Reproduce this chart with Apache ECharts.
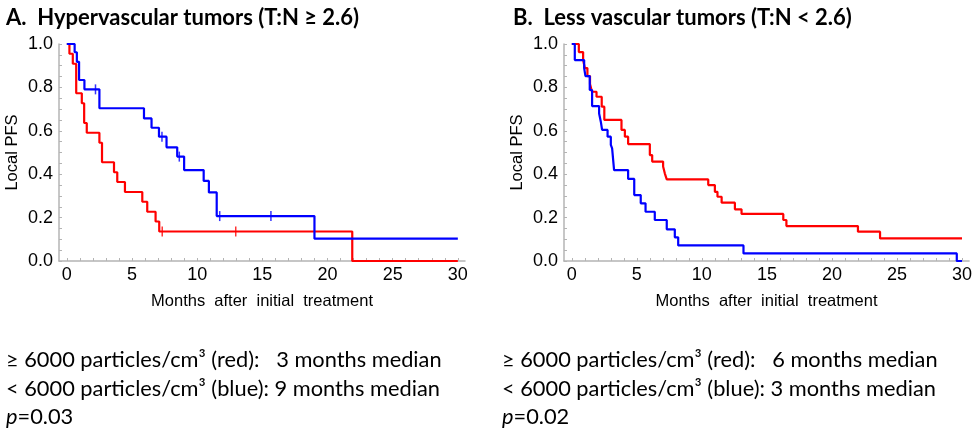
<!DOCTYPE html>
<html>
<head>
<meta charset="utf-8">
<script src="https://cdn.jsdelivr.net/npm/echarts@6/dist/echarts.min.js"></script>
<style>
  html, body { margin: 0; padding: 0; background: #fff; }
  #main { width: 975px; height: 430px; }
</style>
</head>
<body>
<div id="main"></div>
<script>
// Kaplan-Meier curves, [months, local PFS] at each drop
var aRed = [[0,1],[0.2,0.955],[0.46,0.909],[0.72,0.773],[1.15,0.727],[1.33,0.636],[1.53,0.591],
  [2.5,0.545],[2.7,0.455],[3.62,0.409],[3.87,0.364],[4.46,0.318],[5.79,0.273],[6.17,0.227],
  [6.81,0.182],[7.09,0.136],[21.9,0],[30,0]];
var aBlue = [[0,1],[0.6,0.962],[0.77,0.918],[0.94,0.834],[1.35,0.791],[2.5,0.704],[5.92,0.657],
  [6.5,0.614],[7.07,0.573],[7.65,0.524],[8.47,0.481],[9.0,0.419],[10.5,0.369],[10.9,0.316],
  [11.5,0.207],[19.0,0.103],[30,0.103]];
var aRedCens = [[7.32,0.136],[12.96,0.136]];
var aBlueCens = [[2.2,0.791],[7.3,0.573],[8.63,0.481],[11.73,0.207],[15.66,0.207]];

var bRed = [[0,1],[0.54,0.963],[0.87,0.926],[1.0,0.889],[1.2,0.852],[1.4,0.815],[1.55,0.78],
  [1.9,0.757],[2.3,0.711],[2.5,0.65],[3.82,0.604],[4.08,0.573],[4.33,0.539],[6.0,0.488],
  [6.18,0.458],[7.02,0.435],[7.15,0.404],[7.3,0.376],[10.49,0.35],[11.0,0.319],[11.2,0.296],
  [11.52,0.269],[12.54,0.238],[13.05,0.217],[16.26,0.189],[16.5,0.161],[22.0,0.135],
  [23.7,0.104],[30,0.104]];
var bBlue = [[0,1],[0.23,0.926],[0.95,0.889],[1.05,0.852],[1.38,0.788],[1.56,0.714],[2.1,0.68],
  [2.23,0.642],[2.33,0.604],[2.75,0.573],[3.0,0.535],[3.1,0.519],[3.25,0.419],[4.33,0.378],
  [4.8,0.304],[5.3,0.266],[5.67,0.227],[6.38,0.189],[7.3,0.146],[7.92,0.109],[8.18,0.072],
  [13.2,0.035],[29.6,0],[30,0]];

var xLabels = [0, 5, 10, 15, 20, 25, 30];
var xTicks = [];
for (var m = 0; m <= 30; m++) xTicks.push(m);

var titles = ['A.  Hypervascular tumors (T:N \u2265 2.6)', 'B.  Less vascular tumors (T:N < 2.6)'];
var notesA = ['\u2265 6000 particles/cm\u00b3 (red):   3 months median',
  '< 6000 particles/cm\u00b3 (blue): 9 months median', '{i|p}=0.03'];
var notesB = ['\u2265 6000 particles/cm\u00b3 (red):   6 months median',
  '< 6000 particles/cm\u00b3 (blue): 3 months median', '{i|p}=0.02'];

var gray = '#b4b4b4';
var tickFont = { color: '#000', fontSize: 18, fontFamily: 'Liberation Sans' };

function xAx(i) {
  return {
    gridIndex: i, type: 'value', min: -0.6, max: 30.55,
    name: 'Months  after  initial  treatment', nameLocation: 'middle', nameGap: 32,
    nameTextStyle: { color: '#000', fontSize: 16.5, fontFamily: 'Liberation Sans' },
    axisLine: { onZero: false, lineStyle: { color: gray, width: 1.5 } },
    axisTick: { inside: true, length: 3, customValues: xTicks, lineStyle: { color: gray } },
    axisLabel: Object.assign({ customValues: xLabels, margin: 5 }, tickFont),
    splitLine: { show: false }
  };
}
function yAx(i) {
  return {
    gridIndex: i, type: 'value', min: 0, max: 1, interval: 0.2,
    name: 'Local PFS', nameLocation: 'middle', nameGap: 38,
    nameTextStyle: { color: '#000', fontSize: 16.5, fontFamily: 'Liberation Sans' },
    axisLine: { show: true, onZero: false, lineStyle: { color: gray, width: 1.5 } },
    axisTick: { show: true, inside: true, length: 3, lineStyle: { color: gray } },
    minorTick: { show: true, splitNumber: 4, length: 3, lineStyle: { color: gray } },
    axisLabel: Object.assign({ margin: 6, formatter: function (v) { return v.toFixed(1); } }, tickFont),
    splitLine: { show: false }
  };
}
function curve(i, data, color) {
  return { type: 'line', xAxisIndex: i, yAxisIndex: i, step: 'end', data: data,
    showSymbol: false, lineStyle: { color: color, width: 2.2 }, itemStyle: { color: color } };
}
function cens(i, data, color) {
  return { type: 'scatter', xAxisIndex: i, yAxisIndex: i, data: data,
    symbol: 'rect', symbolSize: [1.5, 10], itemStyle: { color: color } };
}
function note(left, lines) {
  return {
    text: lines.join('\n'), left: left, top: 341,
    textStyle: { fontSize: 21.8, fontWeight: 'normal', fontFamily: 'Lato', color: '#000', lineHeight: 28.5,
      rich: { i: { fontStyle: 'italic', fontSize: 21.8, fontFamily: 'Lato', color: '#000', lineHeight: 28.5 } } }
  };
}

var chart = echarts.init(document.getElementById('main'), null, { renderer: 'canvas' });
chart.setOption({
  animation: false,
  backgroundColor: '#fff',
  title: [
    { text: titles[0], left: 1, top: 2, textStyle: { fontSize: 22, fontWeight: 'bold', fontFamily: 'Lato', color: '#000' } },
    { text: titles[1], left: 508, top: 2, textStyle: { fontSize: 22, fontWeight: 'bold', fontFamily: 'Lato', color: '#000' } },
    note(1, notesA),
    note(497, notesB)
  ],
  grid: [
    { left: 59, top: 44, width: 406, height: 217 },
    { left: 564, top: 44, width: 406, height: 217 }
  ],
  xAxis: [xAx(0), xAx(1)],
  yAxis: [yAx(0), yAx(1)],
  series: [
    curve(0, aRed, '#ff0000'), curve(0, aBlue, '#0000ff'),
    cens(0, aRedCens, '#ff0000'), cens(0, aBlueCens, '#0000ff'),
    curve(1, bRed, '#ff0000'), curve(1, bBlue, '#0000ff')
  ]
});
</script>
</body>
</html>
